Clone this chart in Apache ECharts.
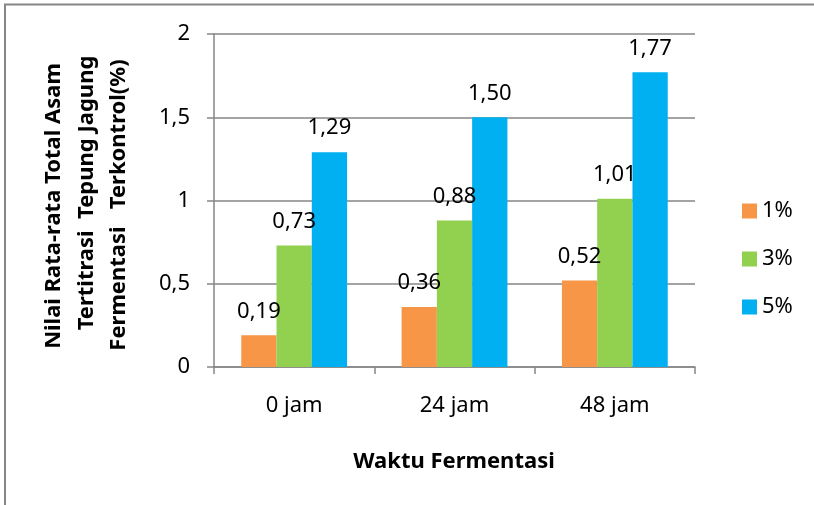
<!DOCTYPE html>
<html>
<head>
<meta charset="utf-8">
<script src="https://cdn.jsdelivr.net/npm/echarts@6/dist/echarts.min.js"></script>
<style>
html,body{margin:0;padding:0;background:#fff;}
#chart{width:814px;height:505px;}
</style>
</head>
<body>
<div id="chart"></div>
<script>
const categories = ['0 jam', '24 jam', '48 jam'];
const seriesNames = ['1%', '3%', '5%'];
const values1 = [0.19, 0.36, 0.52];
const values3 = [0.73, 0.88, 1.01];
const values5 = [1.29, 1.50, 1.77];
const yTicks = [0, 0.5, 1, 1.5, 2];
const yTitleLines = ['Nilai Rata-rata Total Asam', 'Tertitrasi  Tepung Jagung', 'Fermentasi   Terkontrol(%)'];
const xTitle = 'Waktu Fermentasi';
const colors = ['#F79646', '#92D050', '#00B0F0'];

const FONT = 'Noto Sans';
const fmtComma = (v, d) => v.toFixed(d).replace('.', ',');

const chart = echarts.init(document.getElementById('chart'), null, {renderer: 'canvas'});
const allVals = [values1, values3, values5];

const option = {
  animation: false,
  backgroundColor: '#ffffff',
  textStyle: {fontFamily: FONT},
  grid: {left: 214, top: 34, right: 119, bottom: 138, containLabel: false},
  legend: {
    orient: 'vertical',
    left: 737,
    top: 195,
    itemWidth: 15,
    itemHeight: 15,
    itemGap: 26,
    icon: 'rect',
    data: seriesNames,
    textStyle: {fontFamily: FONT, fontSize: 22, color: '#000'}
  },
  xAxis: {
    type: 'category',
    data: categories,
    axisLine: {show: true, lineStyle: {color: '#868686', width: 1.5}},
    axisTick: {show: true, alignWithLabel: false, length: 7, inside: false, lineStyle: {color: '#868686', width: 1.5}},
    axisLabel: {fontFamily: FONT, fontSize: 22, color: '#000', margin: 28},
    splitLine: {show: false}
  },
  yAxis: {
    type: 'value',
    min: 0,
    max: 2,
    interval: 0.5,
    axisLine: {show: true, lineStyle: {color: '#868686', width: 1.5}},
    axisTick: {show: true, length: 7, lineStyle: {color: '#868686', width: 1.5}},
    axisLabel: {
      fontFamily: FONT, fontSize: 22, color: '#000', margin: 24,
      formatter: v => yTicks.includes(v) ? String(v).replace('.', ',') : ''
    },
    splitLine: {show: true, lineStyle: {color: '#868686', width: 1.5}}
  },
  series: seriesNames.map((name, i) => ({
    name: name,
    type: 'bar',
    data: allVals[i],
    barGap: '0%',
    barCategoryGap: '34%',
    itemStyle: {color: colors[i]},
    label: {
      show: true,
      position: 'top',
      distance: 13,
      fontFamily: FONT,
      fontSize: 22,
      color: '#000',
      formatter: p => fmtComma(p.value, 2)
    }
  })),
  graphic: [
    {
      type: 'rect',
      shape: {x: 5, y: 4.5, width: 900, height: 700},
      style: {fill: 'none', stroke: '#868686', lineWidth: 2},
      silent: true
    },
    {
      type: 'text', x: 54, y: 206, rotation: Math.PI / 2,
      style: {text: yTitleLines[0], font: 'bold 22px "Noto Sans"', fill: '#000', textAlign: 'center', textVerticalAlign: 'middle'}
    },
    {
      type: 'text', x: 87, y: 193, rotation: Math.PI / 2,
      style: {text: yTitleLines[1], font: 'bold 22px "Noto Sans"', fill: '#000', textAlign: 'center', textVerticalAlign: 'middle'}
    },
    {
      type: 'text', x: 119, y: 205, rotation: Math.PI / 2,
      style: {text: yTitleLines[2], font: 'bold 22px "Noto Sans"', fill: '#000', textAlign: 'center', textVerticalAlign: 'middle'}
    },
    {
      type: 'text', x: 454, y: 462,
      style: {text: xTitle, font: 'bold 22px "Noto Sans"', fill: '#000', textAlign: 'center', textVerticalAlign: 'middle'}
    }
  ]
};
chart.setOption(option);
</script>
</body>
</html>
